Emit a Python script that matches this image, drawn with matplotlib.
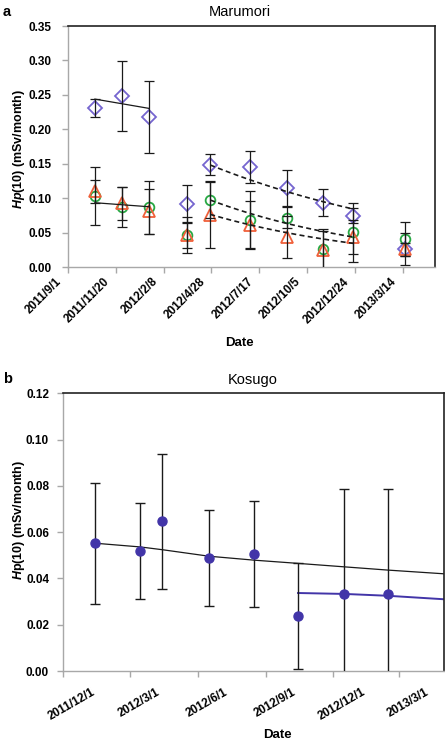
import matplotlib
matplotlib.use('Agg')
import matplotlib.pyplot as plt
import matplotlib.transforms as mtransforms
import numpy as np
import pandas as pd

plt.rcParams['font.family'] = ['Liberation Sans', 'DejaVu Sans']
plt.rcParams['mathtext.fontset'] = 'custom'
plt.rcParams['mathtext.rm'] = 'Liberation Sans:bold'
plt.rcParams['mathtext.it'] = 'Liberation Sans:italic:bold'
plt.rcParams['mathtext.bf'] = 'Liberation Sans:bold'

# ---- panel a : Marumori ----
dates_a = ['2011/10/16', '2011/12/1', '2012/1/14', '2012/3/18', '2012/4/26',
           '2012/7/2', '2012/9/1', '2012/11/1', '2012/12/21', '2013/3/17']
diamond = [0.231, 0.248, 0.218, 0.092, 0.149, 0.145, 0.115, 0.094, 0.075, 0.027]
diamond_err = [0.013, 0.051, 0.052, 0.027, 0.015, 0.023, 0.026, 0.019, 0.011, 0.023]
circle = [0.103, 0.087, 0.087, 0.047, 0.098, 0.069, 0.072, 0.026, 0.051, 0.041]
circle_err = [0.042, 0.029, 0.038, 0.026, 0.026, 0.041, 0.015, 0.030, 0.043, 0.025]
triangle = [0.110, 0.093, 0.081, 0.047, 0.076, 0.061, 0.044, 0.025, 0.044, 0.026]
triangle_err = [0.017, 0.024, 0.033, 0.019, 0.0485, 0.035, 0.030, 0.027, 0.025, 0.010]

# trend lines (start / end values)
solid_dates = ['2011/10/16', '2012/1/14']
solid_diamond = [0.244, 0.2306]
solid_low = [0.0937, 0.0879]
dash_dates = ['2012/4/26', '2012/12/21']
dash_diamond = [0.1484, 0.0846]
dash_circle = [0.0976, 0.0440]
dash_triangle = [0.0768, 0.0348]

ticks_a = ['2011/9/1', '2011/11/20', '2012/2/8', '2012/4/28', '2012/7/17',
           '2012/10/5', '2012/12/24', '2013/3/14']
xlim_a = ['2011/9/1', '2013/5/7']

# ---- panel b : Kosugo ----
dates_b = ['2012/1/14', '2012/3/15', '2012/4/14', '2012/6/16', '2012/8/16',
           '2012/10/15', '2012/12/17', '2013/2/14']
kosugo = [0.0552, 0.0520, 0.0647, 0.0488, 0.0505, 0.0237, 0.0331, 0.0331]
kosugo_err = [0.0262, 0.0207, 0.0292, 0.0206, 0.0230, 0.0230, 0.0454, 0.0454]
fit_b_dates = ['2012/1/14', '2012/3/15', '2012/4/14', '2012/6/16', '2012/8/16',
               '2012/10/15', '2012/12/17', '2013/2/14', '2013/5/1']
fit_b_vals = [0.0552, 0.0536, 0.0524, 0.0496, 0.0479, 0.0465, 0.0450, 0.0436, 0.0420]
fit_b2_dates = ['2012/10/15', '2012/12/17', '2013/2/14', '2013/5/1']
fit_b2_vals = [0.0337, 0.0333, 0.0325, 0.0310]
ticks_b = ['2011/12/1', '2012/3/1', '2012/6/1', '2012/9/1', '2012/12/1', '2013/3/1']
xlim_b = ['2011/12/1', '2013/5/1']

c_dia = '#7565cf'
c_cir = '#27a843'
c_tri = '#f0603a'
c_kos = '#4235a8'


def d(lst):
    return pd.to_datetime(lst, format='%Y/%m/%d')


def style_axes(ax):
    for s in ['left', 'bottom']:
        ax.spines[s].set_color('#a8a8a8')
        ax.spines[s].set_linewidth(1.0)
    for s in ['top', 'right']:
        ax.spines[s].set_color('#222222')
        ax.spines[s].set_linewidth(1.2)
    ax.tick_params(axis='both', direction='out', length=4, color='#a8a8a8',
                   width=1.0, labelsize=8.5)
    for lab in ax.get_yticklabels():
        lab.set_fontweight('bold')


fig = plt.figure(figsize=(4.45, 7.43), dpi=100)
ax1 = fig.add_axes([0.1528, 0.6402, 0.8247, 0.3248])
ax2 = fig.add_axes([0.1416, 0.0969, 0.856, 0.3738])

# panel a markers
xa = d(dates_a)
ax1.plot(xa, diamond, 'D', ms=7.5, mfc='none', mec=c_dia, mew=1.3, zorder=3)
ax1.plot(xa, circle, 'o', ms=7, mfc='none', mec=c_cir, mew=1.3, zorder=3)
ax1.plot(xa, triangle, '^', ms=9, mfc='none', mec=c_tri, mew=1.3, zorder=3)
for vals, err in [(diamond, diamond_err), (circle, circle_err), (triangle, triangle_err)]:
    ax1.errorbar(xa, vals, yerr=err, fmt='none', ecolor='#1a1a1a', elinewidth=0.9,
                 capsize=3.5, capthick=0.9, zorder=4)

# trend lines
sd = d(solid_dates)
ax1.plot(sd, solid_diamond, color='#1a1a1a', lw=0.9, zorder=4)
ax1.plot(sd, solid_low, color='#1a1a1a', lw=0.9, zorder=4)
dd = d(dash_dates)
tt = pd.date_range(dd[0], dd[1], periods=40)
for vals in [dash_diamond, dash_circle, dash_triangle]:
    ax1.plot(tt, np.geomspace(vals[0], vals[1], 40), color='#1a1a1a', lw=1.2,
             ls=(0, (3, 2)), zorder=4)

ax1.set_xlim(d(xlim_a))
ax1.set_ylim(0, 0.35)
ax1.set_yticks(np.arange(0, 0.351, 0.05))
ax1.set_yticklabels(['%.2f' % v for v in np.arange(0, 0.351, 0.05)])
ax1.set_xticks(d(ticks_a))
ax1.set_xticklabels(ticks_a, rotation=45, ha='right', va='center',
                    rotation_mode='anchor', fontweight='bold', fontsize=8.5)
style_axes(ax1)
ax1.tick_params(axis='y', pad=8)
ax1.tick_params(axis='x', pad=5)
off_a = mtransforms.ScaledTranslation(-8 / 100, 0, fig.dpi_scale_trans)
for lab in ax1.get_xticklabels():
    lab.set_transform(lab.get_transform() + off_a)

# panel b
xb = d(dates_b)
ax2.errorbar(xb, kosugo, yerr=kosugo_err, fmt='none', ecolor='#1a1a1a',
             elinewidth=1.0, capsize=3.6, capthick=1.0, zorder=3)
ax2.plot(d(fit_b_dates), fit_b_vals, color='#1a1a1a', lw=0.9, zorder=2)
ax2.plot(d(fit_b2_dates), fit_b2_vals, color=c_kos, lw=1.4, zorder=2)
ax2.plot(xb, kosugo, 'o', ms=6.5, color=c_kos, mec=c_kos, zorder=4)
ax2.set_xlim(d(xlim_b))
ax2.set_ylim(0, 0.12)
ax2.set_yticks(np.arange(0, 0.121, 0.02))
ax2.set_yticklabels(['%.2f' % v for v in np.arange(0, 0.121, 0.02)])
ax2.set_xticks(d(ticks_b))
ax2.set_xticklabels(ticks_b, rotation=30, ha='center', va='top',
                    fontweight='bold', fontsize=8.5)
style_axes(ax2)
ax2.tick_params(axis='y', pad=6)
ax2.tick_params(axis='x', pad=7)
off_b = mtransforms.ScaledTranslation(9 / 100, 0, fig.dpi_scale_trans)
for lab in ax2.get_xticklabels():
    lab.set_transform(lab.get_transform() + off_b)

# texts
W, H = 445, 743
fig.text(3 / W, 1 - 12 / H, 'a', fontsize=10.5, fontweight='bold', va='center')
fig.text(3 / W, 1 - 379 / H, 'b', fontsize=10.5, fontweight='bold', va='center')
fig.text(240 / W, 1 - 12 / H, 'Marumori', fontsize=10.5, ha='center', va='center')
fig.text(253 / W, 1 - 380 / H, 'Kosugo', fontsize=10.5, ha='center', va='center')
fig.text(19 / W, 1 - 149 / H, r'$\mathit{Hp}$(10) (mSv/month)', fontsize=9,
         fontweight='bold', rotation=90, ha='center', va='center')
fig.text(19 / W, 1 - 520 / H, r'$\mathit{H}$p(10) (mSv/month)', fontsize=9,
         fontweight='bold', rotation=90, ha='center', va='center')
fig.text(239 / W, 1 - 343 / H, 'Date', fontsize=9.5, fontweight='bold',
         ha='center', va='center')
fig.text(277 / W, 1 - 735 / H, 'Date', fontsize=9.5, fontweight='bold',
         ha='center', va='center')

fig.savefig('out.png', dpi=100)
